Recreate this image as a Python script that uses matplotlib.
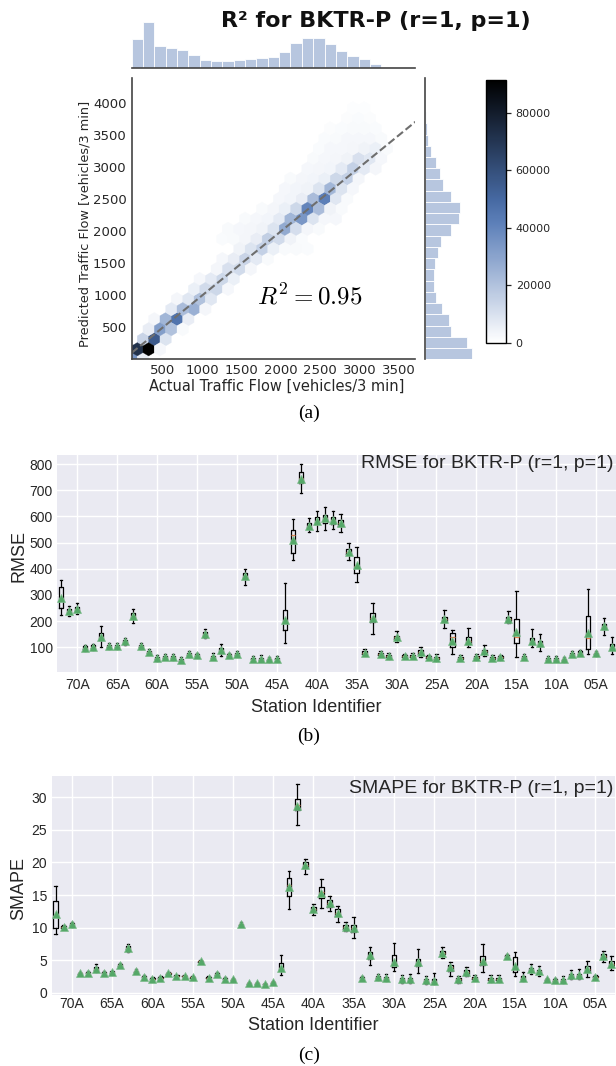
import colorsys
import numpy as np
import matplotlib
matplotlib.use("Agg")
import matplotlib.pyplot as plt
from matplotlib.colors import LinearSegmentedColormap, Normalize

W, H = 616, 1066
plt.rcParams['font.family'] = ['DejaVu Sans']
plt.rcParams['mathtext.fontset'] = 'cm'

# ---------------- (a) data ----------------
# hexbin cells: actual flow, predicted flow, number of samples
hex_actual = [100, 244,
              172, 317, 461,
              244, 389, 533,
              317, 461, 605, 750,
              389, 533, 678, 822,
              605, 750, 894, 1039,
              678, 822, 966, 1111,
              894, 1039, 1183, 1327,
              966, 1111, 1255, 1400,
              1183, 1327, 1472, 1616,
              1255, 1400, 1544, 1688, 1833,
              1472, 1616, 1760, 1905, 2049, 2194, 2338,
              1255, 1400, 1544, 1688, 1833, 1977, 2122, 2266,
              1327, 1472, 1616, 1760, 1905, 2049, 2194, 2338, 2483,
              1544, 1688, 1833, 1977, 2122, 2266, 2410, 2555, 2699,
              1760, 1905, 2049, 2194, 2338, 2483, 2627, 2771,
              1977, 2122, 2266, 2410, 2555, 2699, 2844,
              2049, 2194, 2338, 2483, 2627, 2771, 2916,
              2122, 2266, 2410, 2555, 2699, 2844, 2988,
              2338, 2483, 2627, 2771, 2916, 3060, 3205,
              2410, 2555, 2699, 2844, 2988, 3132, 3277,
              2483, 2627, 2771, 2916, 3060, 3205, 3349,
              2555, 2699, 2844, 2988, 3132, 3277,
              2627, 2771, 2916, 3060, 3205,
              2844, 2988, 3132,
              2988, 3132]
hex_pred = [0, 0,
            157, 157, 157,
            314, 314, 314,
            470, 470, 470, 470,
            627, 627, 627, 627,
            784, 784, 784, 784,
            941, 941, 941, 941,
            1098, 1098, 1098, 1098,
            1254, 1254, 1254, 1254,
            1411, 1411, 1411, 1411,
            1568, 1568, 1568, 1568, 1568,
            1725, 1725, 1725, 1725, 1725, 1725, 1725,
            1882, 1882, 1882, 1882, 1882, 1882, 1882, 1882,
            2038, 2038, 2038, 2038, 2038, 2038, 2038, 2038, 2038,
            2195, 2195, 2195, 2195, 2195, 2195, 2195, 2195, 2195,
            2352, 2352, 2352, 2352, 2352, 2352, 2352, 2352,
            2509, 2509, 2509, 2509, 2509, 2509, 2509,
            2666, 2666, 2666, 2666, 2666, 2666, 2666,
            2822, 2822, 2822, 2822, 2822, 2822, 2822,
            2979, 2979, 2979, 2979, 2979, 2979, 2979,
            3136, 3136, 3136, 3136, 3136, 3136, 3136,
            3293, 3293, 3293, 3293, 3293, 3293, 3293,
            3450, 3450, 3450, 3450, 3450, 3450,
            3606, 3606, 3606, 3606, 3606,
            3763, 3763, 3763,
            3920, 3920]
hex_count = [35000, 6000,
             72000, 91400, 2500,
             14000, 55000, 9000,
             6000, 32000, 20000, 2000,
             3000, 24000, 46000, 6000,
             7000, 22000, 26000, 3000,
             3000, 8000, 20000, 8000,
             5000, 12000, 13000, 2500,
             2500, 7000, 13000, 5000,
             3000, 10000, 12000, 3000,
             2500, 6000, 14000, 7000, 2000,
             4000, 9000, 15000, 5000, 2000, 2000, 1500,
             1500, 2000, 3000, 6000, 16000, 12000, 4000, 1500,
             2000, 2500, 3000, 4000, 9000, 28000, 11000, 3000, 2000,
             2000, 2500, 3500, 7000, 24000, 34000, 9000, 2500, 2500,
             2000, 3000, 5000, 13000, 40000, 22000, 4000, 2000,
             2500, 3500, 6000, 22000, 42000, 8000, 2000,
             2500, 3500, 4000, 9000, 24000, 9000, 2500,
             2000, 3000, 3500, 5000, 13000, 15000, 3000,
             2500, 3000, 3500, 7000, 15000, 7000, 3000,
             2000, 2500, 3000, 4000, 10000, 8000, 2500,
             1500, 2500, 2500, 3000, 4000, 5000, 2000,
             1500, 2000, 2500, 2500, 2500, 2000,
             1200, 1500, 2000, 1800, 1500,
             1200, 1500, 1200,
             800, 800]
actual_range = (100, 3710)
pred_range = (0, 4390)
# marginal histograms (25 bins each, thousands of samples)
actual_hist = [88, 138, 67, 61, 54, 39, 25, 21, 21, 24, 28, 31, 33, 48, 75,
               90, 90, 72, 52, 36, 28, 12, 4, 1, 0.5]
pred_hist = [140, 125, 77, 71, 50, 32, 26, 26, 31, 38, 47, 77, 103, 105, 77,
             53, 44, 32, 17, 8, 5, 2, 0.5, 0.2, 0.1]
r2_value = 0.95

# ---------------- (b), (c) data ----------------
stations = ["%02dA" % s for s in range(72, 2, -1)]

rmse_mean = [287, 239, 246, 99, 103, 141, 105, 105, 123, 220, 105, 83, 58, 64, 62, 52, 75, 70,
             151, 64, 90, 70, 75, 374, 57, 57, 54, 57, 204, 510, 741, 565, 584, 593, 586, 576,
             465, 414, 80, 211, 75, 67, 138, 67, 68, 83, 62, 59, 207, 125, 59, 125, 62, 85,
             59, 62, 209, 159, 64, 125, 115, 57, 57, 54, 75, 80, 153, 77, 181, 103]
rmse_lo = [223, 220, 227, 87, 90, 103, 95, 95, 110, 192, 95, 73, 48, 54, 52, 44, 63, 62,
           136, 55, 67, 62, 66, 338, 48, 47, 45, 48, 115, 433, 688, 540, 546, 548, 551, 542,
           433, 348, 70, 151, 67, 57, 122, 58, 60, 64, 54, 48, 173, 75, 50, 100, 52, 67,
           50, 53, 192, 64, 55, 100, 87, 48, 48, 45, 65, 70, 75, 68, 147, 75]
rmse_q1 = [249, 232, 240, 94, 98, 128, 100, 100, 118, 210, 100, 79, 54, 60, 58, 49, 71, 66,
           145, 60, 80, 66, 71, 365, 54, 53, 51, 54, 166, 459, 726, 555, 570, 575, 572, 565,
           455, 385, 76, 195, 71, 63, 131, 63, 64, 76, 58, 55, 198, 100, 55, 112, 58, 79,
           56, 58, 200, 115, 60, 113, 105, 53, 53, 51, 71, 76, 92, 73, 170, 92]
rmse_med = [285, 238, 245, 99, 103, 140, 105, 104, 122, 219, 105, 83, 58, 64, 61, 52, 75, 70,
            150, 64, 90, 70, 75, 374, 57, 56, 54, 57, 200, 529, 745, 565, 583, 592, 585, 576,
            465, 410, 80, 210, 75, 67, 138, 67, 68, 83, 62, 59, 207, 138, 59, 125, 62, 85,
            59, 62, 209, 138, 64, 125, 115, 57, 57, 54, 75, 80, 134, 77, 181, 102]
rmse_q3 = [329, 245, 252, 104, 107, 154, 109, 109, 128, 230, 110, 87, 62, 68, 65, 56, 79, 74,
           157, 68, 99, 73, 78, 383, 61, 60, 57, 60, 243, 548, 771, 575, 596, 606, 598, 588,
           475, 446, 84, 232, 79, 71, 145, 71, 72, 90, 66, 63, 216, 154, 63, 140, 66, 91,
           63, 66, 216, 208, 68, 135, 125, 61, 61, 57, 79, 84, 220, 80, 190, 114]
rmse_hi = [357, 258, 268, 109, 113, 183, 116, 115, 135, 245, 116, 94, 70, 76, 74, 64, 84, 79,
           169, 78, 111, 78, 84, 398, 68, 69, 64, 68, 347, 590, 800, 592, 619, 637, 620, 608,
           500, 484, 92, 271, 86, 78, 164, 76, 78, 103, 72, 76, 243, 166, 70, 173, 76, 109,
           70, 72, 239, 315, 76, 169, 150, 66, 66, 64, 86, 90, 321, 86, 211, 138]

smape_mean = [12.1, 10.1, 10.5, 3.0, 3.1, 3.7, 3.07, 3.2, 4.25, 6.9, 3.33, 2.46, 2.15, 2.3,
              2.97, 2.56, 2.56, 2.36, 4.8, 2.3, 2.87, 2.15, 2.05, 10.5, 1.43, 1.43, 1.33, 1.64,
              3.84, 16.3, 28.6, 19.6, 12.8, 15.36, 13.7, 12.3, 10.14, 9.9, 2.3, 5.73, 2.36,
              2.2, 4.76, 2.05, 2.05, 4.71, 1.95, 1.84, 6.14, 3.9, 2.1, 3.2, 2.3, 4.9, 2.15,
              2.15, 5.68, 4.1, 2.3, 3.58, 3.28, 2.05, 1.95, 1.95, 2.66, 2.71, 3.69, 2.46,
              5.63, 4.4]
smape_lo = [9.0, 9.8, 10.1, 2.8, 2.9, 3.2, 2.9, 3.0, 4.0, 6.3, 3.1, 2.3, 2.0, 2.1, 2.8, 2.4,
            2.4, 2.2, 4.6, 2.1, 2.6, 2.0, 1.85, 10.2, 1.3, 1.3, 1.2, 1.45, 2.7, 12.8, 25.75,
            18.3, 12.0, 12.95, 12.6, 10.9, 9.5, 8.35, 2.1, 4.25, 1.9, 1.75, 3.38, 1.45, 1.45,
            2.97, 1.33, 1.33, 5.27, 2.56, 1.43, 2.56, 1.95, 3.17, 1.7, 1.7, 5.5, 2.56, 1.75,
            2.87, 2.56, 1.8, 1.7, 1.43, 2.05, 2.05, 2.46, 2.2, 4.76, 3.48]
smape_q1 = [10.0, 9.95, 10.35, 2.9, 3.0, 3.5, 3.0, 3.1, 4.15, 6.7, 3.25, 2.4, 2.1, 2.2, 2.9,
            2.5, 2.5, 2.3, 4.7, 2.2, 2.75, 2.1, 1.95, 10.4, 1.38, 1.38, 1.28, 1.55, 3.5, 14.9,
            28.06, 19.2, 12.5, 14.5, 13.2, 11.8, 9.85, 9.3, 2.2, 5.2, 2.2, 2.0, 4.0, 1.8, 1.8,
            4.1, 1.7, 1.6, 5.9, 3.4, 1.8, 2.95, 2.15, 4.2, 2.0, 2.0, 5.6, 3.23, 2.05, 3.3,
            3.0, 1.95, 1.85, 1.75, 2.45, 2.5, 3.2, 2.36, 5.3, 4.0]
smape_med = [11.8, 10.1, 10.5, 3.0, 3.1, 3.7, 3.07, 3.2, 4.25, 6.9, 3.33, 2.46, 2.15, 2.3,
             2.97, 2.56, 2.56, 2.36, 4.8, 2.3, 2.87, 2.15, 2.05, 10.5, 1.43, 1.43, 1.33, 1.64,
             3.8, 16.5, 28.8, 19.6, 12.8, 15.5, 13.7, 12.3, 10.14, 9.9, 2.3, 5.7, 2.36, 2.2,
             4.6, 2.05, 2.05, 4.7, 1.95, 1.84, 6.14, 3.9, 2.1, 3.2, 2.3, 4.8, 2.15, 2.15, 5.68,
             3.58, 2.3, 3.58, 3.28, 2.05, 1.95, 1.95, 2.66, 2.71, 3.6, 2.46, 5.6, 4.4]
smape_q3 = [14.1, 10.25, 10.65, 3.1, 3.2, 3.9, 3.15, 3.3, 4.35, 7.1, 3.4, 2.55, 2.2, 2.4, 3.05,
            2.65, 2.62, 2.45, 4.9, 2.4, 3.0, 2.2, 2.12, 10.6, 1.5, 1.5, 1.4, 1.72, 4.5, 17.56,
            29.7, 20.0, 13.1, 16.28, 14.2, 12.8, 10.4, 10.4, 2.4, 6.2, 2.5, 2.4, 5.8, 2.3, 2.3,
            5.2, 2.15, 2.05, 6.4, 4.3, 2.3, 3.45, 2.45, 5.6, 2.3, 2.3, 5.76, 5.43, 2.55, 3.85,
            3.55, 2.15, 2.05, 2.15, 2.85, 2.9, 4.1, 2.55, 5.9, 4.8]
smape_hi = [16.4, 10.4, 10.9, 3.2, 3.3, 4.35, 3.3, 3.4, 4.5, 7.5, 3.6, 2.7, 2.35, 2.5, 3.2,
            2.75, 2.75, 2.55, 5.0, 2.5, 3.15, 2.35, 2.25, 10.8, 1.6, 1.6, 1.5, 1.85, 5.8, 18.7,
            32.0, 20.6, 13.57, 17.4, 14.85, 13.3, 10.9, 11.7, 2.5, 6.96, 2.85, 2.85, 7.7, 2.7,
            2.87, 6.66, 2.56, 2.97, 7.07, 4.7, 2.56, 4.0, 2.7, 7.47, 2.66, 2.76, 5.9, 6.3, 3.2,
            4.4, 4.1, 2.3, 2.3, 2.56, 3.48, 3.58, 4.9, 2.7, 6.45, 5.7]


def rect(x0, y0, x1, y1):
    # pixel box (top-left origin) -> figure fraction
    return [x0 / W, 1 - y1 / H, (x1 - x0) / W, (y1 - y0) / H]


fig = plt.figure(figsize=(W / 100, H / 100), dpi=100)

# ---------------- (a) joint plot ----------------
base = (0.298, 0.447, 0.690)
h, l, s = colorsys.rgb_to_hls(*base)
cmap = LinearSegmentedColormap.from_list(
    "blend", [colorsys.hls_to_rgb(h, li, s) for li in np.linspace(1, 0, 12)])
bar_color = "#b7c6df"
spine_col = "#444444"

ax_j = fig.add_axes(rect(131.6, 78.3, 415.3, 359.3))
ax_top = fig.add_axes(rect(131.6, 20, 415.3, 68.3))
ax_rt = fig.add_axes(rect(425, 78.3, 474, 359.3))
cax = fig.add_axes(rect(486, 80, 506, 342.7))

hb = ax_j.hexbin(hex_actual, hex_pred, C=hex_count, reduce_C_function=np.sum,
                 gridsize=25, extent=actual_range + pred_range, cmap=cmap,
                 norm=Normalize(0, 91400), linewidths=0.2, edgecolors='face')
ax_j.axline((0, 0), slope=1, ls='--', color='#6e6e6e', lw=1.5)
ax_j.set_xlim(actual_range)
ax_j.set_ylim(pred_range)
ax_j.set_xticks([500, 1000, 1500, 2000, 2500, 3000, 3500])
ax_j.set_yticks([500, 1000, 1500, 2000, 2500, 3000, 3500, 4000])
ax_j.tick_params(length=0, labelsize=9.5, pad=3.5, colors='#262626')
for side in ['top', 'right']:
    ax_j.spines[side].set_visible(False)
for side in ['left', 'bottom']:
    ax_j.spines[side].set_color(spine_col)
    ax_j.spines[side].set_linewidth(1.2)
ax_j.set_xlabel("Actual Traffic Flow [vehicles/3 min]", fontsize=10.5, color='#262626', va='center')
ax_j.set_ylabel("Predicted Traffic Flow [vehicles/3 min]", fontsize=9.3, color='#262626', va='center')
ax_j.xaxis.set_label_coords((277 - 131.6) / 283.7, (359.3 - 386) / 281)
ax_j.yaxis.set_label_coords((84.5 - 131.6) / 283.7, (359.3 - 224) / 281)
ax_j.text(2370, 978, r"$R^2 = %.2f$" % r2_value, fontsize=18, ha='center', va='center')

edges_a = np.linspace(actual_range[0], actual_range[1], len(actual_hist) + 1)
edges_p = np.linspace(pred_range[0], pred_range[1], len(pred_hist) + 1)
ax_top.bar(edges_a[:-1], actual_hist, width=np.diff(edges_a), align='edge',
           color=bar_color, edgecolor='white', linewidth=0.6)
ax_top.set_xlim(actual_range)
ax_top.set_ylim(0, 145)
ax_rt.barh(edges_p[:-1], pred_hist, height=np.diff(edges_p), align='edge',
           color=bar_color, edgecolor='white', linewidth=0.6)
ax_rt.set_ylim(pred_range)
ax_rt.set_xlim(0, 147)
for a, keep in [(ax_top, 'bottom'), (ax_rt, 'left')]:
    a.set_xticks([])
    a.set_yticks([])
    for side in ['top', 'right', 'bottom', 'left']:
        a.spines[side].set_visible(side == keep)
    a.spines[keep].set_color(spine_col)
    a.spines[keep].set_linewidth(1.2)
    a.patch.set_alpha(0)

cb = fig.colorbar(hb, cax=cax)
cb.set_ticks([0, 20000, 40000, 60000, 80000])
cb.ax.tick_params(labelsize=8, length=3.5, width=0.9, colors='#262626')
cb.outline.set_edgecolor('black')
cb.outline.set_linewidth(1.0)

fig.text(376 / W, 1 - 20.7 / H, "R² for BKTR-P (r=1, p=1)", fontsize=16,
         fontweight='bold', ha='center', va='center', color='#111111')
fig.text(309 / W, 1 - 413 / H, "(a)", family='Liberation Serif', fontsize=14,
         ha='center', va='center')


# ---------------- (b), (c) box panels ----------------
def box_panel(box, mean, lo, q1, med, q3, hi, ylim, yticks, ylabel, title,
              title_xy, xlabel_xy, ylabel_xy, xpad):
    x0, y0, x1, y1 = box
    ax = fig.add_axes(rect(x0, y0, x1, y1))
    ax.set_facecolor('#EAEAF2')
    for sp in ax.spines.values():
        sp.set_visible(False)
    stats = [dict(mean=m, whislo=a, q1=b, med=c, q3=d, whishi=e, fliers=[])
             for m, a, b, c, d, e in zip(mean, lo, q1, med, q3, hi)]
    pos = np.arange(1, len(stats) + 1)
    ax.bxp(stats, positions=pos, widths=0.55, capwidths=0.3, showmeans=True,
           showfliers=False,
           boxprops=dict(color='black', lw=0.9),
           whiskerprops=dict(color='black', lw=0.9),
           capprops=dict(color='black', lw=0.9),
           medianprops=dict(color='#dd8452', lw=0.9),
           meanprops=dict(marker='^', markerfacecolor='#55a868',
                          markeredgecolor='#7dbb8b', markeredgewidth=0.5,
                          markersize=6))
    ax.set_xlim(0.5, len(stats) + 0.5)
    ax.set_ylim(ylim)
    tick_idx = list(range(2, len(stations), 5))
    ax.set_xticks(pos[tick_idx])
    ax.set_xticklabels([stations[i] for i in tick_idx])
    ax.set_yticks(yticks)
    ax.grid(True, color='white', lw=1.0)
    ax.set_axisbelow(True)
    ax.tick_params(axis='both', length=0, labelsize=10, colors='#262626',
                   labelfontfamily='Liberation Sans')
    ax.tick_params(axis='y', pad=3.3)
    ax.tick_params(axis='x', pad=xpad)
    w, hgt = x1 - x0, y1 - y0
    ax.set_xlabel("Station Identifier", fontsize=13, family='Liberation Sans',
                  color='#262626', va='center')
    ax.xaxis.set_label_coords((xlabel_xy[0] - x0) / w, (y1 - xlabel_xy[1]) / hgt)
    ax.set_ylabel(ylabel, fontsize=13, family='Liberation Sans', color='#262626',
                  va='center')
    ax.yaxis.set_label_coords((ylabel_xy[0] - x0) / w, (y1 - ylabel_xy[1]) / hgt)
    ax.text((title_xy[0] - x0) / w, (y1 - title_xy[1]) / hgt, title, transform=ax.transAxes,
            ha='right', va='center', fontsize=14, family='Liberation Sans', color='#262626')
    return ax


box_panel((57.3, 455, 616.1, 671.7), rmse_mean, rmse_lo, rmse_q1, rmse_med, rmse_q3, rmse_hi,
          (6.8, 834.4), [100, 200, 300, 400, 500, 600, 700, 800], "RMSE",
          "RMSE for BKTR-P (r=1, p=1)", (613, 464), (316, 707.3), (19, 556), 4.5)
fig.text(308.3 / W, 1 - 736.7 / H, "(b)", family='Liberation Serif', fontsize=14,
         ha='center', va='center')

box_panel((51.6, 776, 615.5, 995), smape_mean, smape_lo, smape_q1, smape_med, smape_q3,
          smape_hi, (-0.35, 33.27), [0, 5, 10, 15, 20, 25, 30], "SMAPE",
          "SMAPE for BKTR-P (r=1, p=1)", (613, 788.3), (313.4, 1026), (18.3, 888), 1.5)
fig.text(309 / W, 1 - 1055 / H, "(c)", family='Liberation Serif', fontsize=14,
         ha='center', va='center')

fig.savefig("out.png", dpi=100)
